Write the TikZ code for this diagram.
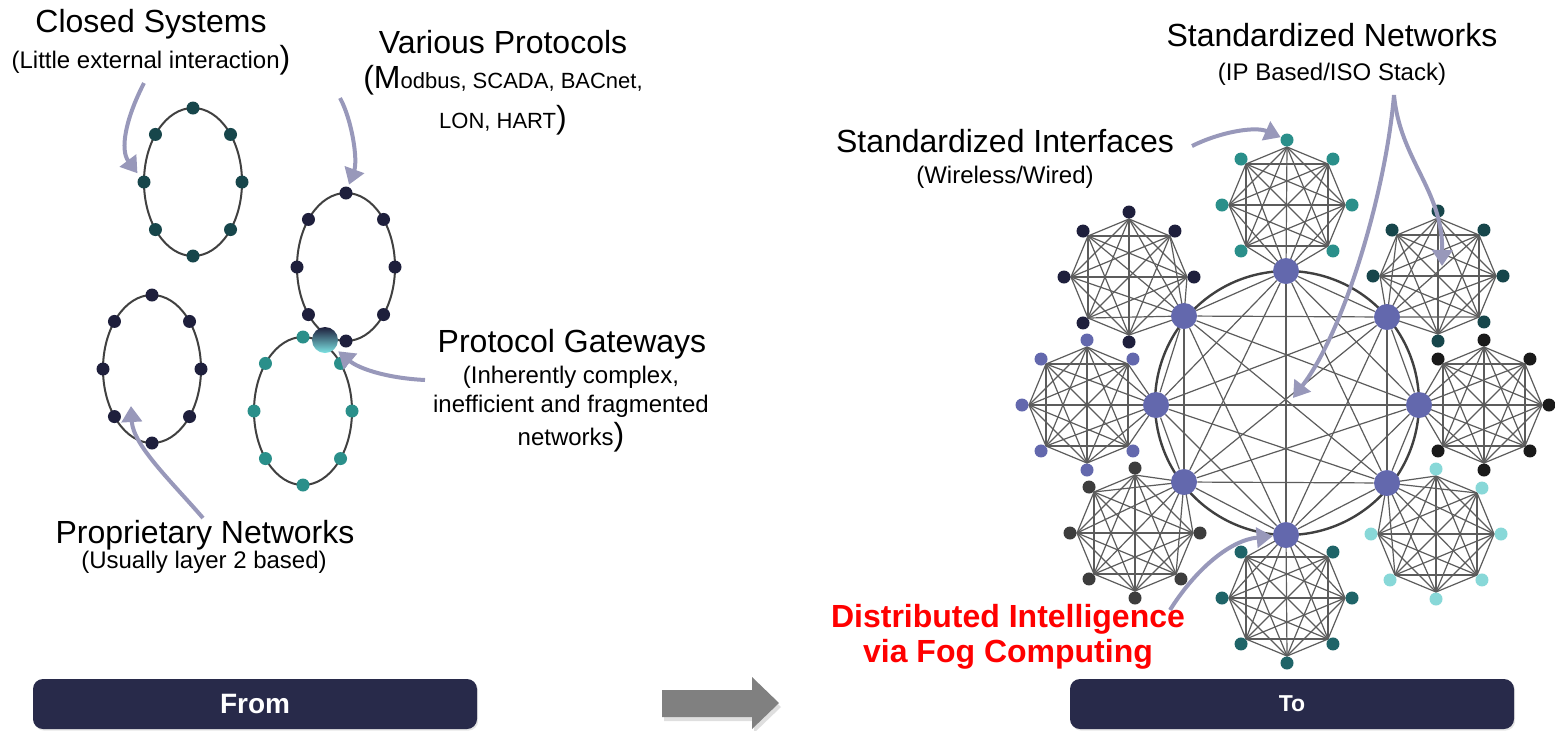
\documentclass[tikz,border=0pt]{standalone}
\usepackage{fontspec}
\setmainfont{Liberation Sans}
\usepackage{xcolor}
\usepackage{tikz}
\usetikzlibrary{positioning,arrows.meta,calc,shadows,backgrounds}

\definecolor{fognavy}{RGB}{40,42,74}
\definecolor{fogpurple}{RGB}{99,104,173}
\definecolor{fogteal}{RGB}{42,143,138}
\definecolor{fogdeep}{RGB}{23,70,75}
\definecolor{foginky}{RGB}{30,31,60}
\definecolor{fogblack}{RGB}{26,26,26}
\definecolor{foggrey}{RGB}{61,61,61}
\definecolor{fogaqua}{RGB}{136,216,216}
\definecolor{fogsea}{RGB}{31,100,104}
\definecolor{fogglow}{RGB}{125,228,228}
\definecolor{meshgrey}{RGB}{92,92,92}
\definecolor{ringgrey}{RGB}{64,64,64}
\definecolor{pointergrey}{RGB}{152,152,186}
\definecolor{blockgrey}{RGB}{128,128,128}

\newcommand{\bigsz}{\fontsize{16}{19}\selectfont}
\newcommand{\subsz}{\fontsize{12}{14}\selectfont}

\tikzset{
  dot/.style={circle, fill=#1, inner sep=0pt, minimum size=6.5pt},
  hub/.style={circle, fill=fogpurple, inner sep=0pt, minimum size=13pt},
  mesh/.style={draw=meshgrey, line width=0.6pt},
  ringline/.style={draw=ringgrey, line width=1pt},
  pointer/.style={-{Triangle[length=8pt,width=10pt]}, draw=pointergrey, line width=2pt},
  headline/.style={anchor=base, font=\bigsz},
  subline/.style={anchor=base, font=\subsz},
  bar/.style={fill=fognavy, text=white, rounded corners=5pt, minimum width=222pt, minimum height=25pt, inner sep=0pt,
    drop shadow={opacity=0.2, shadow xshift=0.6pt, shadow yshift=-0.8pt}},
}

% meshed octagon: name, centre, dot colour, corner sitting on the ring, hub
\newcommand{\meshcluster}[5]{%
  \foreach \k in {0,...,7}{%
    \ifnum\k=#4\relax
      \coordinate (#1v\k) at (#5);
    \else
      \coordinate (#1v\k) at ($(#2)+(\k*45:58)$);
    \fi
  }
  \begin{pgfonlayer}{background}
    \foreach \i [evaluate=\i as \nxt using int(\i+1)] in {0,...,6}
      \foreach \j in {\nxt,...,7}
        \draw[mesh] (#1v\i) -- (#1v\j);
  \end{pgfonlayer}
  \foreach \k in {0,...,7}{%
    \ifnum\k=#4\relax\else
      \node[dot=#3] (#1d\k) at ($(#2)+(\k*45:65)$) {};
    \fi
  }
}

% field bus loop: name, centre, dot colour
\newcommand{\busloop}[3]{%
  \draw[ringline] (#2) ellipse [x radius=24.5pt, y radius=37pt];
  \foreach \k/\ang in {0/-90,1/-40,2/0,3/40,4/90,5/140,6/180,7/220}
    \node[dot=#3] (#1d\k) at ($(#2)+({49*cos(\ang)},{74*sin(\ang)})$) {};
}

\begin{document}
\begin{tikzpicture}[x=0.5pt,y=-0.5pt]
  \useasboundingbox (0,0) rectangle (1555,730);
  \begin{pgfonlayer}{background}
    \fill[white] (0,0) rectangle (1555,730);
  \end{pgfonlayer}

  % --- before: isolated loops
  \busloop{ea}{193,182}{fogdeep}
  \busloop{eb}{346,267}{foginky}
  \busloop{ec}{152,369}{foginky}
  \busloop{ed}{303,411}{fogteal}
  \node[circle, inner sep=0pt, minimum size=13pt, top color=foginky, bottom color=fogglow] (gw) at (325,340) {};

  \node[headline] (closed) at (151,32) {Closed Systems};
  \node[subline] (closedsub) at (151,68) {(Little external interaction{\bigsz)}};
  \node[headline] (various) at (503,53) {Various Protocols};
  \node[subline, font=\fontsize{11}{13}\selectfont] (varioussub) at (503,88) {{\bigsz(M}odbus, SCADA, BACnet,};
  \node[subline, font=\fontsize{11}{13}\selectfont] (variousend) at (503,128) {LON, HART{\bigsz)}};
  \node[headline] (gateways) at (572,352) {Protocol Gateways};
  \node[subline] (gatewaysa) at (571,383) {(Inherently complex,};
  \node[subline] (gatewaysb) at (571,412) {inefficient and fragmented};
  \node[subline] (gatewaysc) at (571,445) {networks{\bigsz)}};
  \node[headline] (proprietary) at (205,543) {Proprietary Networks};
  \node[subline] (proprietarysub) at (204,568) {(Usually layer 2 based)};

  \coordinate (closedtail) at (144,83);
  \coordinate (varioustail) at (340,98);
  \coordinate (gwtail) at (425,380);
  \coordinate (proptail) at (203,518);
  \coordinate (propend) at (131,406);
  \draw[pointer, shorten >=2pt] (closedtail) .. controls (125,120) and (120,150) .. (ead6);
  \draw[pointer, shorten >=1pt] (varioustail) .. controls (352,120) and (358,160) .. (ebd0);
  \draw[pointer, shorten >=2pt] (gwtail) .. controls (385,378) and (358,368) .. (gw);
  \draw[pointer] (proptail) .. controls (170,480) and (133,445) .. (propend);

  % --- after: fog nodes on one ring
  \coordinate (ringc) at (1287,403);
  \foreach \k/\x/\y in {0/1419/405, 1/1387/483, 2/1286/535, 3/1184/482,
                        4/1156/405, 5/1184/316, 6/1286/271, 7/1387/317}
    \node[hub] (h\k) at (\x,\y) {};
  \begin{pgfonlayer}{background}
    \draw[ringline, line width=1.2pt] (ringc) circle [radius=66pt];
    \foreach \i [evaluate=\i as \nxt using int(\i+1)] in {0,...,6}
      \foreach \j in {\nxt,...,7}
        \draw[mesh] (h\i) -- (h\j);
  \end{pgfonlayer}

  \meshcluster{ce}{1484,405}{fogblack}{4}{h0}
  \meshcluster{cse}{1436,534}{fogaqua}{5}{h1}
  \meshcluster{cs}{1287,598}{fogsea}{6}{h2}
  \meshcluster{csw}{1135,533}{foggrey}{7}{h3}
  \meshcluster{cw}{1087,405}{fogpurple}{0}{h4}
  \meshcluster{cnw}{1129,277}{foginky}{1}{h5}
  \meshcluster{cn}{1287,205}{fogteal}{2}{h6}
  \meshcluster{cne}{1438,276}{fogdeep}{3}{h7}

  \node[headline] (stdnet) at (1332,46) {Standardized Networks};
  \node[subline] (stdnetsub) at (1332,80) {(IP Based/ISO Stack)};
  \node[headline] (stdif) at (1005,152) {Standardized Interfaces};
  \node[subline] (stdifsub) at (1005,183) {(Wireless/Wired)};
  \node[headline, text=red, font=\bigsz\bfseries] (fog) at (1008,627) {Distributed Intelligence};
  \node[headline, text=red, font=\bigsz\bfseries] (fogsub) at (1008,662) {via Fog Computing};

  \coordinate (iftail) at (1192,146);
  \coordinate (nettail) at (1394,95);
  \coordinate (ringtip) at (1293,398);
  \coordinate (netend) at (1442,266);
  \coordinate (fogtail) at (1170,610);
  \draw[pointer] (iftail) .. controls (1220,132) and (1255,126) .. (cnd6);
  \draw[pointer] (nettail) .. controls (1386,190) and (1345,330) .. (ringtip);
  \draw[pointer] (nettail) .. controls (1400,160) and (1443,190) .. (netend);
  \draw[pointer] (fogtail) .. controls (1195,570) and (1230,540) .. (h2);

  % --- bottom strip
  \node[bar, font=\fontsize{14}{16}\selectfont\bfseries] (from) at (255,704) {From};
  \node[bar, font=\fontsize{11.5}{14}\selectfont\bfseries] (to) at (1292,704) {To};
  \fill[blockgrey, drop shadow={opacity=0.25, shadow xshift=1pt, shadow yshift=-2pt}]
    (662,690) -- (752,690) -- (752,677) -- (779,703) -- (752,729) -- (752,717) -- (662,717) -- cycle;
\end{tikzpicture}
\end{document}
